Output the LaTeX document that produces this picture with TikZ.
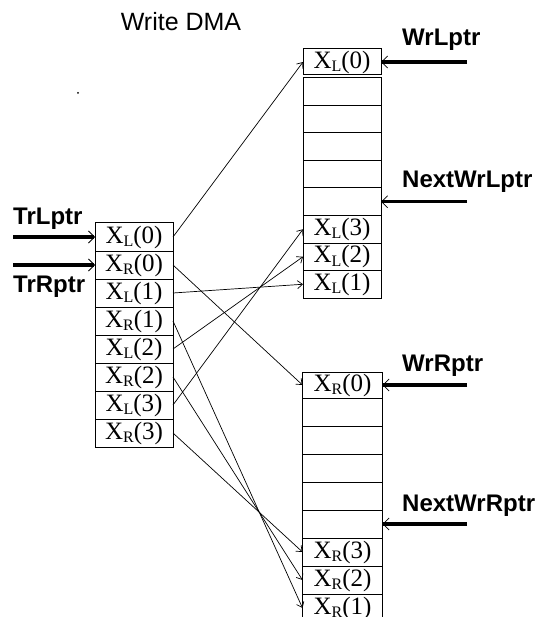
\documentclass[tikz,border=0pt]{standalone}
\usepackage{fontspec}
\setmainfont{Liberation Serif}
\newfontfamily\lsans{Liberation Sans}
\usetikzlibrary{arrows.meta}
\newcommand\cellL[1]{X\raisebox{-3.5pt}{\fontsize{16}{16}\selectfont L}(#1)}
\newcommand\cellR[1]{X\raisebox{-3.5pt}{\fontsize{16}{16}\selectfont R}(#1)}
\tikzset{
 cell/.style={draw, line width=1pt, inner sep=0pt, outer sep=0pt, minimum width=78pt, minimum height=28pt, font=\fontsize{25}{25}\selectfont},
 ptrlabel/.style={font=\lsans\bfseries\fontsize{24}{24}\selectfont, inner sep=0pt, anchor=base west},
 ptr/.style={line width=3.5pt, -{Straight Barb[line width=0.8pt,length=6pt,width=12pt]}},
 link/.style={line width=0.7pt, -{Straight Barb[length=5pt,width=8pt]}},
}
\begin{document}
\begin{tikzpicture}[x=1pt,y=-1pt]
\useasboundingbox (0,0) rectangle (544,617);
\clip (0,0) rectangle (544,617);
% left table
\node[cell] (lL0) at (134,237) {\cellL{0}};
\node[cell] (lR0) at (134,265) {\cellR{0}};
\node[cell] (lL1) at (134,293) {\cellL{1}};
\node[cell] (lR1) at (134,321) {\cellR{1}};
\node[cell] (lL2) at (134,349) {\cellL{2}};
\node[cell] (lR2) at (134,377) {\cellR{2}};
\node[cell] (lL3) at (134,405) {\cellL{3}};
\node[cell] (lR3) at (134,433) {\cellR{3}};
% upper right table
\node[cell, minimum height=26pt] (uL0) at (342,62) {\cellL{0}};
\node[cell, minimum height=27.5pt] (u1) at (342,91.75) {};
\node[cell, minimum height=27.5pt] (u2) at (342,119.25) {};
\node[cell, minimum height=27.5pt] (u3) at (342,146.75) {};
\node[cell, minimum height=27.5pt] (u4) at (342,174.25) {};
\node[cell, minimum height=27.5pt] (u5) at (342,201.75) {};
\node[cell, minimum height=27.5pt] (uL3) at (342,229.25) {\cellL{3}};
\node[cell, minimum height=27.5pt] (uL2) at (342,256.75) {\cellL{2}};
\node[cell, minimum height=27.5pt] (uL1) at (342,284.25) {\cellL{1}};
% lower right table
\node[cell, minimum width=80pt, minimum height=26pt] (dR0) at (342.5,385) {\cellR{0}};
\node[cell, minimum width=80pt] (d1) at (342.5,412) {};
\node[cell, minimum width=80pt] (d2) at (342.5,440) {};
\node[cell, minimum width=80pt] (d3) at (342.5,468) {};
\node[cell, minimum width=80pt] (d4) at (342.5,496) {};
\node[cell, minimum width=80pt] (d5) at (342.5,524) {};
\node[cell, minimum width=80pt] (dR3) at (342.5,552) {\cellR{3}};
\node[cell, minimum width=80pt] (dR2) at (342.5,580) {\cellR{2}};
\node[cell, minimum width=80pt] (dR1) at (342.5,608) {\cellR{1}};
% links
\draw[link] (lL0.east) -- (uL0.west);
\draw[link] (lL1.east) -- (uL1.west);
\draw[link] (lL2.east) -- (uL2.west);
\draw[link] (lL3.east) -- (uL3.west);
\draw[link] (lR0.east) -- (dR0.west);
\draw[link] (lR1.east) -- (dR1.west);
\draw[link] (lR2.east) -- (dR2.west);
\draw[link] (lR3.east) -- (dR3.west);
% pointers
\coordinate (trl) at (13,237);
\coordinate (trr) at (13,265);
\coordinate (wrl) at (467,62);
\coordinate (nwl) at (467,201.75);
\coordinate (wrr) at (467,385);
\coordinate (nwr) at (467,524);
\draw[ptr] (trl) -- (lL0.west);
\draw[ptr] (trr) -- (lR0.west);
\draw[ptr] (wrl) -- (uL0.east);
\draw[ptr] (nwl) -- (u5.east);
\draw[ptr] (wrr) -- (dR0.east);
\draw[ptr] (nwr) -- (d5.east);
% labels
\node[ptrlabel] (ltrl) at (13,225) {TrLptr};
\node[ptrlabel] (ltrr) at (13,292) {TrRptr};
\node[ptrlabel] (lwrl) at (402,46) {WrLptr};
\node[ptrlabel] (lnwl) at (402,188) {NextWrLptr};
\node[ptrlabel] (lwrr) at (402,371) {WrRptr};
\node[ptrlabel] (lnwr) at (402,511) {NextWrRptr};
\node[font=\lsans\fontsize{25}{25}\selectfont, inner sep=0pt, anchor=base] (title) at (181,31) {Write DMA};
\fill (78,93) circle (1pt);
\end{tikzpicture}
\end{document}
